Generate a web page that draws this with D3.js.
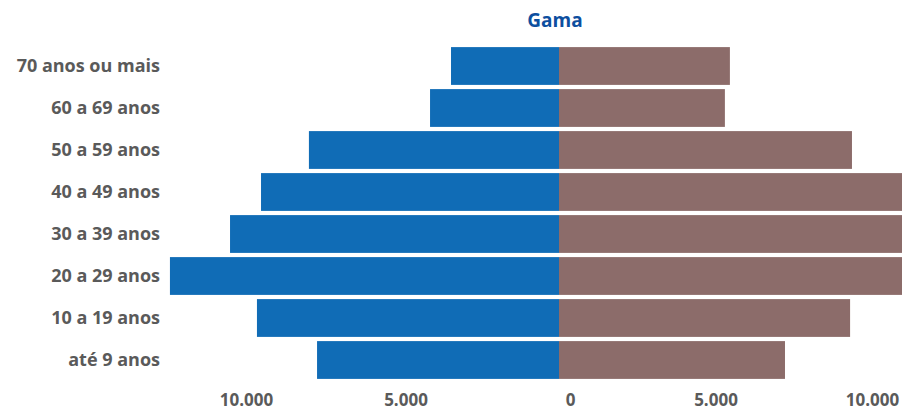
<!DOCTYPE html>
<html><head><meta charset="utf-8">
<script src="https://cdn.jsdelivr.net/npm/d3@7"></script>
<style>
html,body{margin:0;padding:0;background:#fff;}
svg{display:block;font-family:"Open Sans",sans-serif;}
</style></head>
<body>
<svg id="chart" width="902" height="411"></svg>
<script>
const categories = ["70 anos ou mais","60 a 69 anos","50 a 59 anos","40 a 49 anos","30 a 39 anos","20 a 29 anos","10 a 19 anos","até 9 anos"];
const leftValues = [3450, 4120, 7990, 9520, 10510, 12430, 9650, 7730];
const rightValues = [5460, 5300, 9360, 11300, 11900, 12300, 9300, 7220];
const leftTicks = [10000, 5000];
const rightTicks = [0, 5000, 10000];
const title = "Gama";

const svg = d3.select("#chart");
const cx = 559, pxPerUnit = 0.0313;
const xL = d3.scaleLinear().domain([0, 10000]).range([cx, cx - 10000*pxPerUnit]);
const xR = d3.scaleLinear().domain([0, 10000]).range([cx, cx + 10000*pxPerUnit]);
const y = d3.scaleBand().domain(categories).range([45, 381]).paddingInner(0.1).paddingOuter(0.05);

svg.append("text").attr("x", 555).attr("y", 27).attr("text-anchor","middle")
  .attr("font-size", 19).attr("font-weight", 700).attr("fill", "#0d4f9f").text(title);

svg.append("g").selectAll("rect").data(categories).join("rect")
  .attr("x", (d,i) => xL(leftValues[i])).attr("y", d => y(d))
  .attr("width", (d,i) => xL(0) - xL(leftValues[i])).attr("height", y.bandwidth())
  .attr("fill", "#106cb6");
svg.append("g").selectAll("rect").data(categories).join("rect")
  .attr("x", xR(0)).attr("y", d => y(d))
  .attr("width", (d,i) => xR(rightValues[i]) - xR(0)).attr("height", y.bandwidth())
  .attr("fill", "#8c6c6a");

const yAxis = svg.append("g").attr("transform", "translate(160,0)")
  .call(d3.axisLeft(y).tickSize(0).tickPadding(0));
yAxis.select(".domain").remove();
yAxis.selectAll("text").attr("font-family", "Open Sans").attr("font-size", 18)
  .attr("font-weight", 700).attr("fill", "#5a5a5a").attr("dy", "0.36em");

const fmt = d => d3.format(",")(d).replace(/,/g, ".");
function styleAxis(g){
  g.select(".domain").remove();
  g.selectAll("line").remove();
  g.selectAll("text").attr("y", 0).attr("dy", 0).attr("font-family","Open Sans")
   .attr("font-size", 17).attr("font-weight", 700).attr("fill", "#5a5a5a");
}
const axL = svg.append("g").attr("transform","translate(0,406)")
  .call(d3.axisBottom(xL).tickValues(leftTicks).tickFormat(fmt).tickSize(0));
styleAxis(axL);
axL.selectAll("text").filter(d => d === 5000).attr("dx", 3);
const axR = svg.append("g").attr("transform","translate(0,406)")
  .call(d3.axisBottom(xR).tickValues(rightTicks).tickFormat(fmt).tickSize(0));
styleAxis(axR);
axR.selectAll("text").filter(d => d === 0).attr("dx", 11);
</script>
</body></html>
